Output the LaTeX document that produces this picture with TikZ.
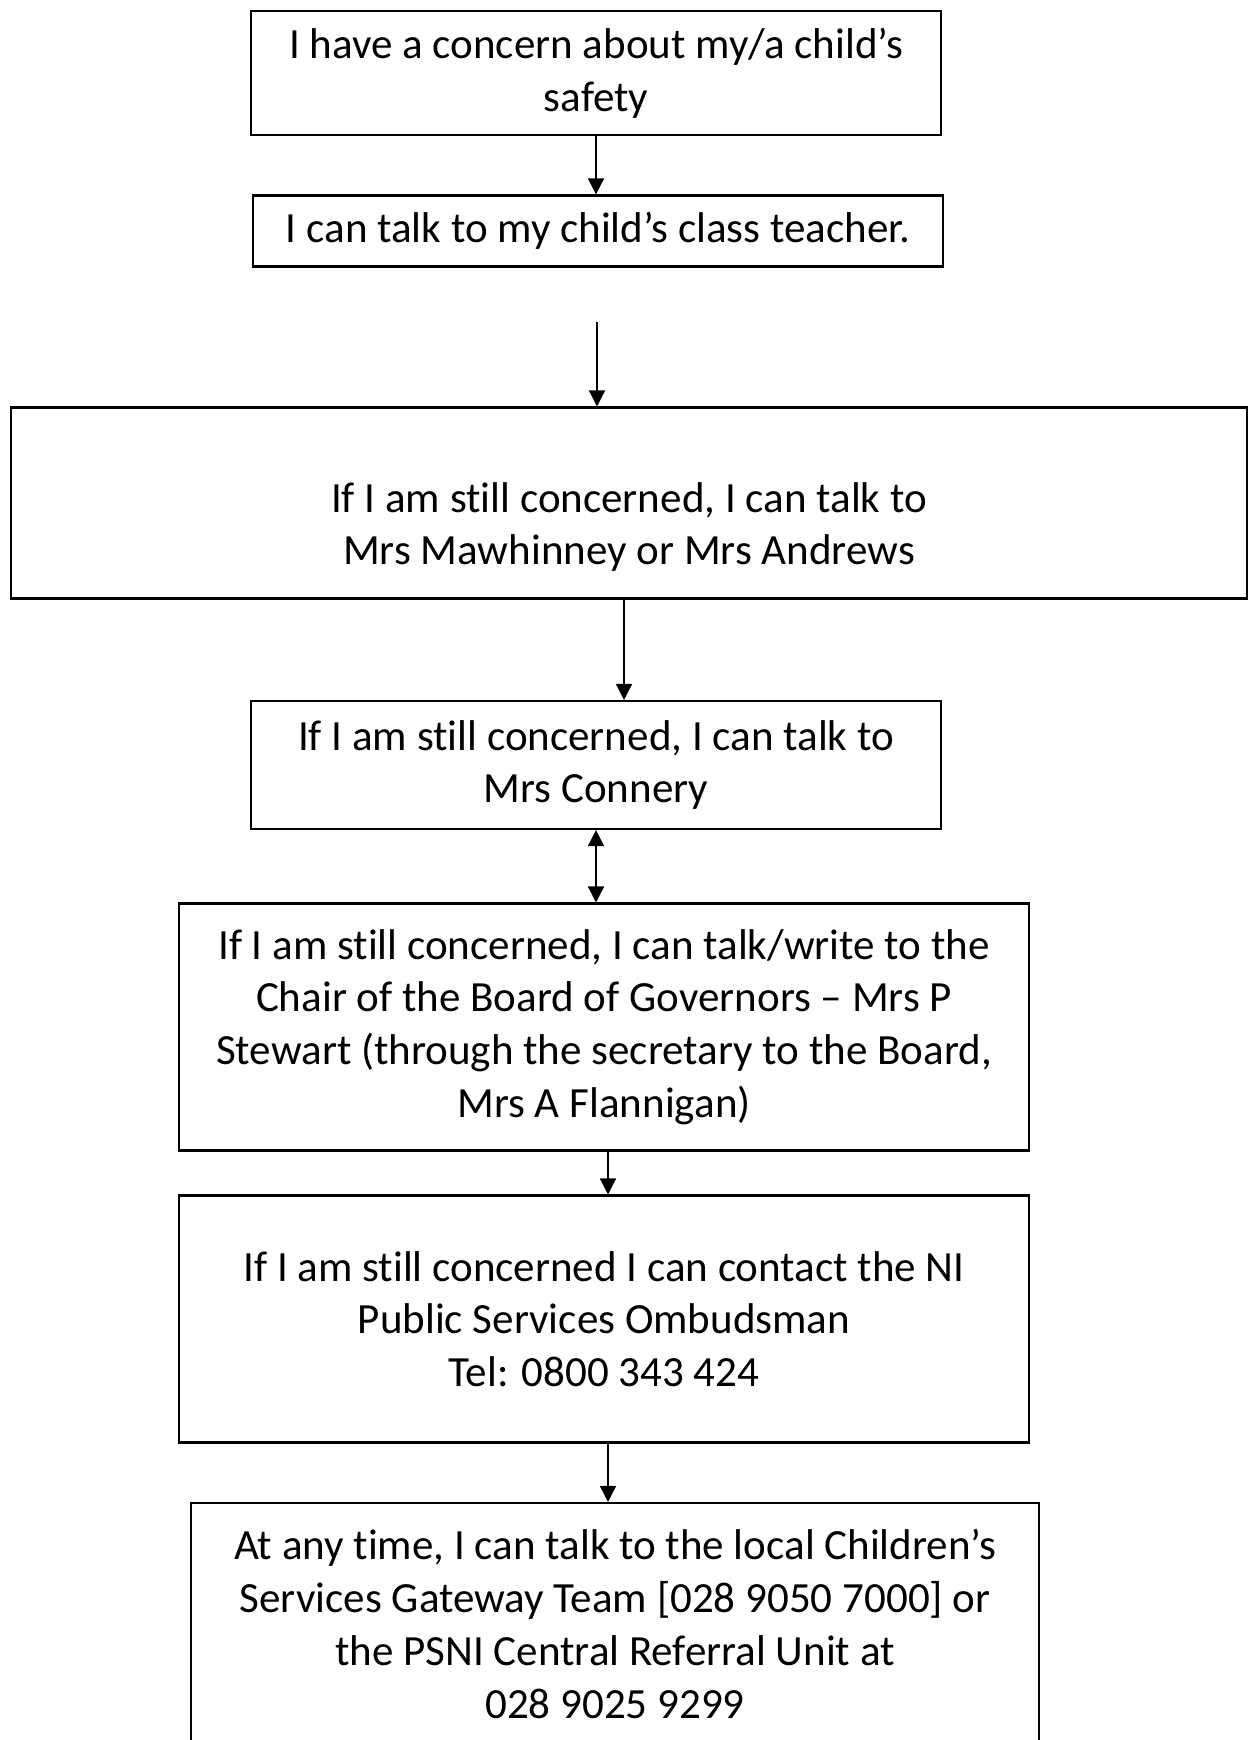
\documentclass[tikz,border=0pt]{standalone}
\usepackage{fontspec}
\setmainfont{Carlito}[Ligatures=NoCommon]
\usetikzlibrary{arrows.meta,calc,positioning}
\tikzset{
    -{Triangle[length=3.2mm,width=3.2mm]},x=0.02cm,y=-0.02cm,
    box/.style ={rectangle, draw, line width=1.2pt, align=center, inner sep=0pt,
        font=\fontsize{24.5}{30}\selectfont},
    txt/.style = {align=center, inner sep=0pt, font=\fontsize{24.5}{30}\selectfont},
    link/.style = {line width=0.8pt},
    both/.style={{Triangle[length=3.2mm,width=3.2mm]}-{Triangle[length=3.2mm,width=3.2mm]}}
}
\begin{document}
\begin{tikzpicture}
      \useasboundingbox (0,0) rectangle (1254,1740);
      \node[box, minimum width=13.8cm, minimum height=2.48cm] (concern) at (596,73) {I have a concern about my/a child’s\\safety};
      \node[box, minimum width=13.8cm, minimum height=1.42cm] (teacher) at (598,231) {I can talk to my child’s class teacher.};
      \node[box, minimum width=24.72cm, minimum height=3.82cm] (still1) at (629,503) {};
      \node[txt] (still1text) at (629,527) {If I am still concerned, I can talk to\\Mrs Mawhinney or Mrs Andrews};
      \node[box, minimum width=13.8cm, minimum height=2.56cm] (connery) at (596,765) {If I am still concerned, I can talk to\\Mrs Connery};
      \node[box, minimum width=17cm, minimum height=4.94cm] (chair) at (604,1027) {If I am still concerned, I can talk/write to the\\Chair of the Board of Governors – Mrs P\\Stewart (through the secretary to the Board,\\Mrs A Flannigan)};
      \node[box, minimum width=17cm, minimum height=4.94cm] (ombudsman) at (604,1319) {If I am still concerned I can contact the NI\\Public Services Ombudsman\\Tel: 0800 343 424};
      \node[box, minimum width=16.98cm, minimum height=4.84cm] (gateway) at (615,1624) {At any time, I can talk to the local Children’s\\Services Gateway Team [028 9050 7000] or\\the PSNI Central Referral Unit at\\028 9025 9299};
      \coordinate (gap) at (597,322);

      \path[link] (concern.south) edge (concern.south |- teacher.north);
      \path[link] (gap) edge (gap |- still1.north);
      \path[link] ([xshift=-0.1cm]still1.south) edge ([xshift=-0.1cm]still1.south |- connery.north);
      \path[link, both] (connery.south) edge[both] (connery.south |- chair.north);
      \path[link] ([xshift=0.08cm]chair.south) edge ([xshift=0.08cm]chair.south |- ombudsman.north);
      \path[link] ([xshift=0.08cm]ombudsman.south) edge ([xshift=0.08cm]ombudsman.south |- gateway.north);
    \end{tikzpicture}
\end{document}
